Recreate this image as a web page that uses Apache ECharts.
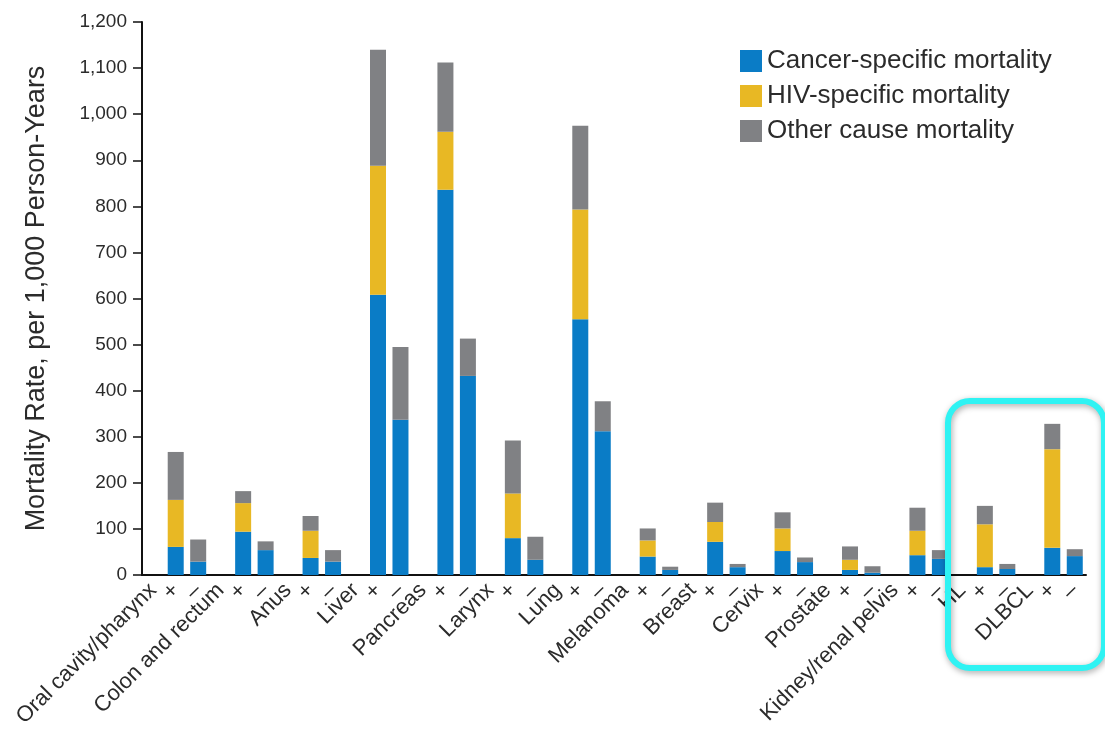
<!DOCTYPE html>
<html>
<head>
<meta charset="utf-8">
<script src="https://cdn.jsdelivr.net/npm/echarts@6/dist/echarts.min.js"></script>
<style>
  html, body { margin: 0; padding: 0; background: #fff; }
  #chart { width: 1105px; height: 733px; }
</style>
</head>
<body>
<div id="chart"></div>
<script>
  // cancer types, each one gets a name slot then HIV+ and HIV- bars
  const cancers = ['Oral cavity/pharynx', 'Colon and rectum', 'Anus', 'Liver', 'Pancreas', 'Larynx', 'Lung',
    'Melanoma', 'Breast', 'Cervix', 'Prostate', 'Kidney/renal pelvis', 'HL', 'DLBCL']
  const statusLabels = ['+', '–']

  // mortality per 1,000 person-years (stack segments)
  const cancerPos = [61, 94, 37, 608, 836, 80, 555, 40, 72, 52, 11, 43, 17, 59]
  const cancerNeg = [29, 54, 29, 337, 432, 33, 312, 11, 17, 28, 5, 35, 13, 41]
  const hivPos = [102, 62, 59, 280, 126, 97, 238, 35, 43, 49, 22, 53, 93, 214]
  const hivNeg = [0, 0, 0, 0, 0, 0, 0, 0, 0, 0, 0, 0, 0, 0]
  const otherPos = [104, 26, 32, 252, 150, 115, 182, 26, 42, 35, 29, 50, 40, 55]
  const otherNeg = [48, 19, 25, 158, 81, 50, 65, 7, 7, 10, 14, 19, 11, 15]

  const yTicks = { min: 0, max: 1200, interval: 100 }

  const categories = []
  cancers.forEach(name => {
    categories.push(name, statusLabels[0], statusLabels[1])
  })
  function interleave(pos, neg) {
    const out = []
    pos.forEach((v, i) => {
      out.push(null, v, neg[i])
    })
    return out
  }

  const chart = echarts.init(document.getElementById('chart'))
  const font = 'Liberation Sans, Arial, sans-serif'

  function barSeries(name, data, color) {
    return {
      name,
      type: 'bar',
      stack: 'total',
      barWidth: 16,
      data,
      itemStyle: { color },
      emphasis: { disabled: true }
    }
  }

  chart.setOption({
    animation: false,
    textStyle: { fontFamily: font },
    grid: { left: 142, right: 19, top: 22, bottom: 158 },
    legend: {
      orient: 'vertical',
      left: 735,
      top: 43,
      itemWidth: 22,
      itemHeight: 22,
      itemGap: 9,
      icon: 'rect',
      textStyle: { fontSize: 26, lineHeight: 22, color: '#2b2b2b', fontFamily: font },
      data: ['Cancer-specific mortality', 'HIV-specific mortality', 'Other cause mortality']
    },
    xAxis: {
      type: 'category',
      data: categories,
      axisLine: { lineStyle: { color: '#111', width: 2 } },
      axisTick: { length: 8, lineStyle: { color: '#111', width: 1.5 } },
      axisLabel: {
        interval: 0,
        rotate: 45,
        margin: 12,
        fontSize: 22,
        color: '#2b2b2b',
        fontFamily: font
      }
    },
    yAxis: {
      type: 'value',
      min: yTicks.min,
      max: yTicks.max,
      interval: yTicks.interval,
      name: 'Mortality Rate, per 1,000 Person-Years',
      nameLocation: 'middle',
      nameGap: 92,
      nameTextStyle: { fontSize: 27, color: '#2b2b2b', fontFamily: font },
      axisLine: { show: true, lineStyle: { color: '#111', width: 2 } },
      axisTick: { show: true, length: 9, lineStyle: { color: '#111', width: 1.5 } },
      splitLine: { show: false },
      axisLabel: {
        fontSize: 19,
        color: '#2b2b2b',
        margin: 15,
        fontFamily: font,
        formatter: v => v.toLocaleString('en-US')
      }
    },
    series: [
      barSeries('Cancer-specific mortality', interleave(cancerPos, cancerNeg), '#0a7cc6'),
      barSeries('HIV-specific mortality', interleave(hivPos, hivNeg), '#e8b824'),
      barSeries('Other cause mortality', interleave(otherPos, otherNeg), '#808184')
    ],
    graphic: [
      {
        type: 'rect',
        left: 945,
        top: 398,
        shape: { width: 156, height: 267, r: 22 },
        style: {
          fill: 'none',
          stroke: '#2ff3f3',
          lineWidth: 6,
          shadowBlur: 6,
          shadowColor: 'rgba(0,0,0,0.35)',
          shadowOffsetX: 1,
          shadowOffsetY: 2
        },
        z: 100
      }
    ]
  })
</script>
</body>
</html>
